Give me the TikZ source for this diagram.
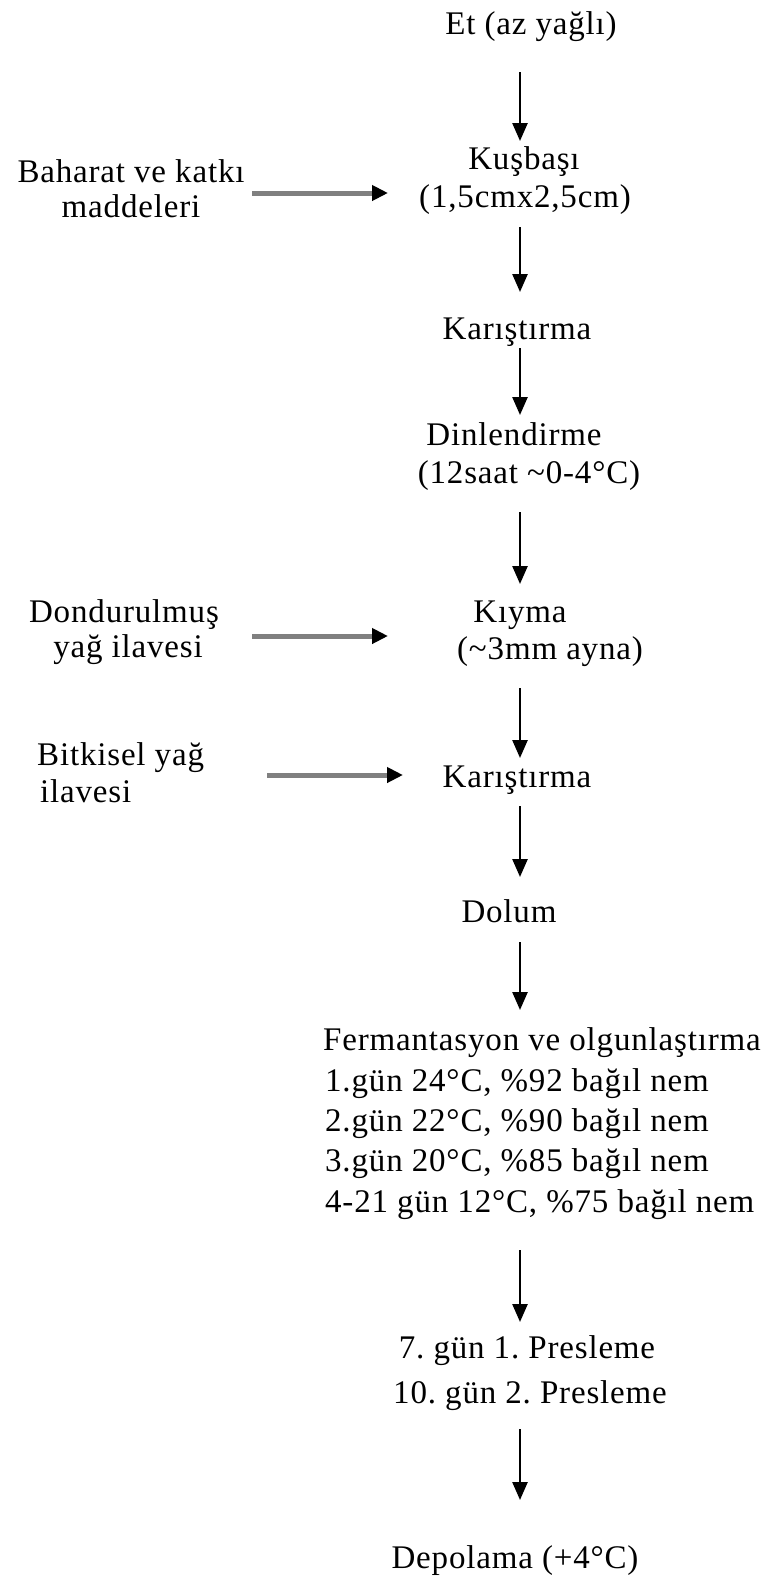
\documentclass[tikz,border=0pt]{standalone}
\usepackage{fontspec}
\setmainfont{Liberation Serif}[LetterSpace=2.5]
\frenchspacing
\usetikzlibrary{arrows.meta}
\begin{document}
\begin{tikzpicture}[x=1pt,y=-1pt,
  lbl/.style={inner sep=0pt,anchor=base,font=\fontsize{33}{38}\selectfont},
  lblw/.style={lbl,anchor=base west},
  vflow/.style={line width=2.5pt,-{Triangle[width=15pt,length=18pt]}},
  hflow/.style={line width=5pt,draw=black!50,-{Triangle[width=15pt,length=16pt,color=black]}}]
\useasboundingbox (0,0) rectangle (771,1580);

% main column
\node[lbl] (et) at (531,34) {Et (az yağlı)};
\node[lbl] (kus1) at (524,169) {Kuşbaşı};
\node[lbl] (kus2) at (525,207) {(1,5cmx2,5cm)};
\node[lbl] (kar1) at (517,339) {Karıştırma};
\node[lbl] (din1) at (514,445) {Dinlendirme};
\node[lbl] (din2) at (529,483) {(12saat \textasciitilde0-4°C)};
\node[lbl] (kiy1) at (520,622) {Kıyma};
\node[lbl] (kiy2) at (550,659) {(\textasciitilde3mm ayna)};
\node[lbl] (kar2) at (517,787) {Karıştırma};
\node[lbl] (dol) at (509,922) {Dolum};
\node[lblw] (fer1) at (323,1050) {Fermantasyon ve olgunlaştırma};
\node[lblw] (fer2) at (325,1091) {1.gün 24°C, \%92 bağıl nem};
\node[lblw] (fer3) at (325,1131) {2.gün 22°C, \%90 bağıl nem};
\node[lblw] (fer4) at (325,1171) {3.gün 20°C, \%85 bağıl nem};
\node[lblw] (fer5) at (325,1212) {4-21 gün 12°C, \%75 bağıl nem};
\node[lbl] (pre1) at (527,1358) {7. gün 1. Presleme};
\node[lbl] (pre2) at (530,1403) {10. gün 2. Presleme};
\node[lbl] (dep) at (515,1568) {Depolama (+4°C)};

% side inputs
\node[lbl] (bah1) at (131,182) {Baharat ve katkı};
\node[lbl] (bah2) at (131,217) {maddeleri};
\node[lbl] (don1) at (124,622) {Dondurulmuş};
\node[lbl] (don2) at (128,657) {yağ ilavesi};
\node[lblw] (bit1) at (37,765) {Bitkisel yağ};
\node[lblw] (bit2) at (40,802) {ilavesi};

% connector ends
\coordinate (v1a) at (520,72);   \coordinate (v1b) at (520,141);
\coordinate (v2a) at (520,227);  \coordinate (v2b) at (520,292);
\coordinate (v3a) at (520,348);  \coordinate (v3b) at (520,415);
\coordinate (v4a) at (520,512);  \coordinate (v4b) at (520,584);
\coordinate (v5a) at (520,688);  \coordinate (v5b) at (520,758);
\coordinate (v6a) at (520,806);  \coordinate (v6b) at (520,877);
\coordinate (v7a) at (520,942);  \coordinate (v7b) at (520,1010);
\coordinate (v8a) at (520,1250); \coordinate (v8b) at (520,1322);
\coordinate (v9a) at (520,1429); \coordinate (v9b) at (520,1500);
\coordinate (h1a) at (252,193);  \coordinate (h1b) at (388,193);
\coordinate (h2a) at (252,636);  \coordinate (h2b) at (388,636);
\coordinate (h3a) at (267,775);  \coordinate (h3b) at (403,775);

\foreach \i in {1,...,9} \draw[vflow] (v\i a) -- (v\i b);
\foreach \i in {1,2,3} \draw[hflow] (h\i a) -- (h\i b);
\end{tikzpicture}
\end{document}
